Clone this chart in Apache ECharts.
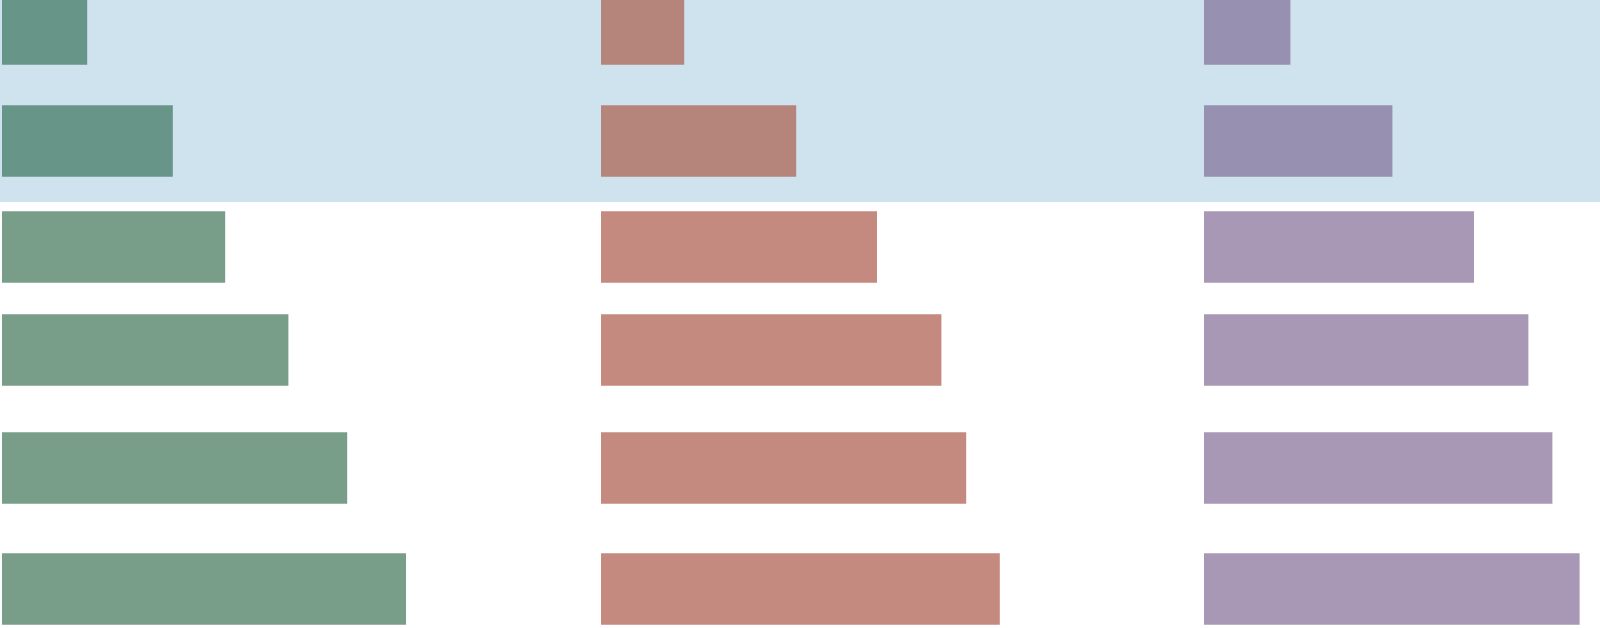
<!DOCTYPE html>
<html>
<head>
<meta charset="utf-8">
<script src="https://cdn.jsdelivr.net/npm/echarts@6/dist/echarts.min.js"></script>
<style>
  html, body { margin: 0; padding: 0; background: #ffffff; }
  #main { width: 1600px; height: 628px; }
</style>
</head>
<body>
<div id="main"></div>
<script>
// row positions (y, top to bottom) shared by the three panels
var rowPos = [0.29, 1.41, 2.47, 3.50, 4.68, 5.89];
// bar lengths per panel
var panelA = [21.3, 42.7, 55.8, 71.6, 86.3, 101.0];
var panelB = [20.8, 48.8, 69.0, 85.1, 91.3, 99.7];
var panelC = [21.6, 47.1, 67.5, 81.1, 87.1, 93.9];
// highlighted y range
var bandRange = [0, 2.02];

var barThick = 0.715;

var colors = [
    {base: '#789e8a', hi: '#679587'},
    {base: '#c4897f', hi: '#b5847b'},
    {base: '#a898b5', hi: '#9890b0'}
];

var myChart = echarts.init(document.getElementById('main'));

function makeBars(values, idx){
    var data = [];
    for(var i = 0; i < values.length; i++){
        data.push([values[i], rowPos[i]]);
    }
    return {
        type: 'custom',
        xAxisIndex: idx,
        yAxisIndex: idx,
        z: 2,
        silent: true,
        data: data,
        renderItem: function(params, api){
            var v = api.value(0);
            var y = api.value(1);
            var start = api.coord([0, y]);
            var end = api.coord([v, y]);
            var h = api.size([0, barThick])[1];
            var inBand = y >= bandRange[0] && y <= bandRange[1];
            return {
                type: 'rect',
                shape: {x: start[0], y: start[1] - h / 2, width: end[0] - start[0], height: h},
                style: {fill: inBand ? colors[idx].hi : colors[idx].base}
            };
        }
    };
}

// 4 px per unit on every panel; the last panel runs to the right edge
var lefts = [2, 601, 1204];
var widths = [599, 603, 396];
var grids = [], xAxes = [], yAxes = [];
for(var k = 0; k < 3; k++){
    grids.push({left: lefts[k], top: 0, width: widths[k], height: 628});
    xAxes.push({type: 'value', gridIndex: k, min: 0, max: widths[k] / 4, show: false});
    yAxes.push({type: 'value', gridIndex: k, min: 0, max: 6.28, inverse: true, show: false});
}
// full-width grid for the highlighted band
grids.push({left: 0, top: 0, width: 1600, height: 628});
xAxes.push({type: 'value', gridIndex: 3, min: 0, max: 1, show: false});
yAxes.push({type: 'value', gridIndex: 3, min: 0, max: 6.28, inverse: true, show: false});

var option = {
    animation: false,
    backgroundColor: '#ffffff',
    grid: grids,
    xAxis: xAxes,
    yAxis: yAxes,
    series: [
        {
            type: 'custom',
            xAxisIndex: 3,
            yAxisIndex: 3,
            z: 0,
            silent: true,
            data: [bandRange],
            renderItem: function(params, api){
                var p0 = api.coord([0, api.value(0)]);
                var p1 = api.coord([1, api.value(1)]);
                return {
                    type: 'rect',
                    shape: {x: p0[0], y: p0[1], width: p1[0] - p0[0], height: p1[1] - p0[1]},
                    style: {fill: '#cee3ee'}
                };
            }
        },
        makeBars(panelA, 0),
        makeBars(panelB, 1),
        makeBars(panelC, 2)
    ]
};

myChart.setOption(option);
</script>
</body>
</html>
